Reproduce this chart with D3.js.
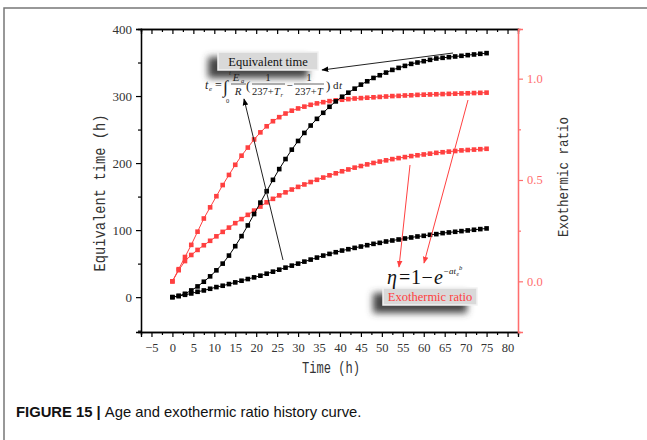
<!DOCTYPE html>
<html>
<head>
<meta charset="utf-8">
<script src="https://cdn.jsdelivr.net/npm/d3@7"></script>
<style>
  body { margin: 0; background: #fff; }
  svg { display: block; }
</style>
</head>
<body>
<svg id="svg1" width="647" height="440"></svg>
<script>
// time (h), one point every 1.5 h
var times = d3.range(0, 75.01, 1.5);

// equivalent time (h), left axis
var eqTimeHigh = [0, 2, 5, 10, 16, 23, 31, 40, 50, 62, 76, 91, 107, 124, 141, 158, 175, 191, 206, 220,
  233, 245, 256, 266, 275, 284, 292, 299, 305, 311, 317, 322, 327, 331, 335, 339, 342, 345, 348, 350,
  352, 354, 356, 357, 358, 359, 360, 361, 362, 363, 364];
var eqTimeLow = [0, 1.5, 3.5, 5.5, 8, 10, 12.5, 15, 17, 19.5, 22, 24.5, 27, 29.5, 32, 35, 38, 41, 44, 47,
  50, 53, 56, 59, 62, 64.5, 67, 69.5, 71.5, 73.5, 75.5, 77.5, 79.5, 81, 83, 84.5, 86, 87.5, 89, 90.5,
  91.5, 93, 94, 95.5, 96.5, 97.5, 98.5, 99.5, 100.5, 101.5, 102.5];

// exothermic ratio, right axis
var exoHigh = [0, 0.06, 0.12, 0.18, 0.245, 0.31, 0.365, 0.42, 0.475, 0.525, 0.575, 0.62, 0.66, 0.7, 0.735,
  0.765, 0.79, 0.81, 0.828, 0.842, 0.853, 0.862, 0.871, 0.878, 0.884, 0.889, 0.893, 0.896, 0.899, 0.902,
  0.904, 0.906, 0.908, 0.91, 0.912, 0.914, 0.915, 0.917, 0.918, 0.92, 0.921, 0.922, 0.923, 0.924, 0.925,
  0.926, 0.927, 0.928, 0.929, 0.93, 0.931];
var exoLow = [0, 0.055, 0.1, 0.13, 0.155, 0.178, 0.2, 0.222, 0.244, 0.265, 0.287, 0.307, 0.328, 0.349, 0.369,
  0.39, 0.407, 0.424, 0.439, 0.453, 0.466, 0.478, 0.49, 0.501, 0.512, 0.523, 0.533, 0.543, 0.552, 0.561,
  0.569, 0.577, 0.584, 0.591, 0.597, 0.603, 0.608, 0.613, 0.618, 0.622, 0.626, 0.63, 0.634, 0.637, 0.64,
  0.643, 0.646, 0.648, 0.65, 0.652, 0.654];

var xTicks = d3.range(-5, 80.1, 5);
var leftTicks = [0, 100, 200, 300, 400];
var rightTicks = [0, 0.5, 1.0];

var plotL = 141, plotR = 518, plotT = 29, plotB = 332;
var red = "#ff4040", axisRed = "#ff6e6e";

var svg = d3.select("#svg1");

// image frame
svg.append("path").attr("d", "M4,440 V8 H647").attr("fill", "none")
   .attr("stroke", "#777").attr("stroke-width", 1.5);

var scaleX = d3.scaleLinear().domain([-7.5, 82.5]).range([plotL, plotR]);
var scaleY = d3.scaleLinear().domain([-52, 400]).range([plotB, plotT]);
var scaleR = d3.scaleLinear().domain([-0.25, 1.245]).range([plotB, plotT]);

var defs = svg.append("defs");
defs.append("filter").attr("id", "blur").attr("x", "-30%").attr("y", "-60%")
    .attr("width", "160%").attr("height", "220%")
    .append("feGaussianBlur").attr("stdDeviation", 3.5);
["arrowK", "arrowR"].forEach(function(id, i) {
  defs.append("marker").attr("id", id).attr("viewBox", "0 0 10 10")
      .attr("refX", 9).attr("refY", 5).attr("markerWidth", 7).attr("markerHeight", 7)
      .attr("orient", "auto")
      .append("path").attr("d", "M0,1 L10,5 L0,9 z").attr("fill", i ? red : "#000");
});

// axes
var tickFont = "'Liberation Serif', 'Times New Roman', serif";

var gB = svg.append("g").attr("transform", "translate(0," + plotB + ")")
  .call(d3.axisBottom(scaleX).tickValues(xTicks).tickSize(5).tickPadding(6).tickFormat(d3.format("d")));
svg.append("g").attr("transform", "translate(0," + plotB + ")")
  .call(d3.axisBottom(scaleX).tickValues(d3.range(-7.5, 82.5, 5)).tickSize(3).tickFormat(""));
svg.append("g").attr("transform", "translate(0," + plotT + ")")
  .call(d3.axisBottom(scaleX).tickValues(xTicks).tickSize(5).tickFormat(""));
svg.append("g").attr("transform", "translate(0," + plotT + ")")
  .call(d3.axisBottom(scaleX).tickValues(d3.range(-7.5, 82.5, 5)).tickSize(3).tickFormat(""));
svg.append("g").attr("transform", "translate(" + plotL + ",0)")
  .call(d3.axisLeft(scaleY).tickValues(leftTicks).tickSize(5).tickPadding(4));
svg.append("g").attr("transform", "translate(" + plotL + ",0)")
  .call(d3.axisLeft(scaleY).tickValues([-50, 50, 150, 250, 350]).tickSize(3).tickFormat(""));
svg.append("g").attr("class", "raxis").attr("transform", "translate(" + plotR + ",0)")
  .call(d3.axisRight(scaleR).tickValues(rightTicks).tickSize(5).tickPadding(4).tickFormat(d3.format(".1f")));
svg.append("g").attr("class", "raxis").attr("transform", "translate(" + plotR + ",0)")
  .call(d3.axisRight(scaleR).tickValues([0.25, 0.75]).tickSize(3).tickFormat(""));

svg.selectAll(".domain").attr("stroke-width", 1.3);
svg.selectAll(".tick line").attr("stroke-width", 1.2);
svg.selectAll("text").attr("font-family", tickFont).attr("font-size", 13).attr("fill", "#333");
gB.selectAll("text").attr("font-size", 12.5);
svg.selectAll(".raxis .domain, .raxis .tick line").attr("stroke", axisRed);
svg.selectAll(".raxis text").attr("fill", axisRed).attr("font-size", 12.5);

// axis titles
var monoFont = "'Liberation Mono', 'DejaVu Sans Mono', monospace";
function axisTitle(x, y, rot, size, len, label) {
  svg.append("text").attr("transform", "translate(" + x + "," + y + ") rotate(" + rot + ")")
     .attr("text-anchor", "middle").attr("font-family", monoFont).attr("font-size", size)
     .attr("textLength", len).attr("lengthAdjust", "spacingAndGlyphs")
     .attr("fill", "#333").text(label);
}
axisTitle(105, 193, -90, 16, 157, "Equivalent time (h)");
axisTitle(568, 177, -90, 15, 120, "Exothermic ratio");
axisTitle(331, 373, 0, 16, 58, "Time (h)");

// series
function drawSeries(vals, yScale, color) {
  var pts = times.map(function(t, i) { return [scaleX(t), yScale(vals[i])]; });
  svg.append("path").attr("d", d3.line()(pts)).attr("fill", "none")
     .attr("stroke", color).attr("stroke-width", 1);
  svg.append("g").selectAll("rect").data(pts).enter().append("rect")
     .attr("x", function(d) { return d[0] - 2.3; })
     .attr("y", function(d) { return d[1] - 2.3; })
     .attr("width", 4.6).attr("height", 4.6).attr("fill", color);
}
drawSeries(exoHigh, scaleR, red);
drawSeries(exoLow, scaleR, red);
drawSeries(eqTimeHigh, scaleY, "#000");
drawSeries(eqTimeLow, scaleY, "#000");

// annotation boxes
function labelBox(x, y, w, h, label, color) {
  svg.append("rect").attr("x", x - 10).attr("y", y + 5).attr("width", w).attr("height", h + 3)
     .attr("fill", "#444").attr("filter", "url(#blur)");
  svg.append("rect").attr("x", x).attr("y", y).attr("width", w).attr("height", h)
     .attr("fill", "#d9d9d9").attr("stroke", "#f2f2f2").attr("stroke-width", 1.5);
  svg.append("text").attr("x", x + w / 2).attr("y", y + h / 2 + 4.5)
     .attr("text-anchor", "middle").attr("font-family", tickFont).attr("font-size", 12.5)
     .attr("fill", color).text(label);
}
labelBox(218, 52, 100, 18, "Equivalent time", "#111");
labelBox(383, 288, 94, 17, "Exothermic ratio", red);

// equivalent time formula
var f = svg.append("g").attr("font-family", tickFont).attr("font-size", 11).attr("fill", "#222");
function ft(x, y, s, opts) {
  var t = f.append("text").attr("x", x).attr("y", y).text(s);
  if (opts && opts.italic) t.attr("font-style", "italic");
  if (opts && opts.size) t.attr("font-size", opts.size);
  if (opts && opts.anchor) t.attr("text-anchor", opts.anchor);
  return t;
}
function fline(x1, x2, y) {
  f.append("line").attr("x1", x1).attr("x2", x2).attr("y1", y).attr("y2", y)
   .attr("stroke", "#222").attr("stroke-width", 0.7);
}
ft(205, 89, "t", {italic: true, size: 12});
ft(209, 91, "e", {italic: true, size: 7});
ft(215, 89, "=", {size: 12});
ft(223, 93, "\u222B", {size: 18});
ft(229, 75, "t", {italic: true, size: 6.5});
ft(226, 103, "0", {size: 6.5});
ft(236, 81, "E", {italic: true, anchor: "middle"});
ft(241, 83, "a", {italic: true, size: 6.5});
fline(231, 246, 84);
ft(238, 95, "R", {italic: true, anchor: "middle"});
ft(246, 90, "(", {size: 13});
ft(268, 81, "1", {anchor: "middle"});
fline(252, 285, 84);
ft(252, 95, "237+", {size: 10.5});
ft(274, 95, "T", {italic: true, size: 10.5});
ft(280.5, 97, "r", {italic: true, size: 6.5});
ft(286.5, 89, "\u2212");
ft(309, 81, "1", {anchor: "middle"});
fline(294, 324, 84);
ft(295, 95, "237+", {size: 10.5});
ft(317, 95, "T", {italic: true, size: 10.5});
ft(326, 90, ")", {size: 13});
ft(333, 89, "d");
ft(339, 89, "t", {italic: true});

// exothermic ratio formula
var g = svg.append("g").attr("font-family", tickFont).attr("fill", "#111").attr("font-size", 20);
g.append("text").attr("x", 387).attr("y", 284).attr("font-style", "italic").text("\u03B7");
g.append("text").attr("x", 399).attr("y", 284).text("=");
g.append("text").attr("x", 411).attr("y", 284).text("1");
g.append("text").attr("x", 421.5).attr("y", 284).text("\u2212");
g.append("text").attr("x", 434).attr("y", 284).attr("font-style", "italic").text("e");
g.append("text").attr("x", 443).attr("y", 274).attr("font-size", 9).attr("font-style", "italic").text("\u2212at");
g.append("text").attr("x", 456.5).attr("y", 276).attr("font-size", 5.5).attr("font-style", "italic").text("e");
g.append("text").attr("x", 459).attr("y", 270).attr("font-size", 6.5).attr("font-style", "italic").text("b");

// arrows
function arrow(x1, y1, x2, y2, color, id) {
  svg.append("line").attr("x1", x1).attr("y1", y1).attr("x2", x2).attr("y2", y2)
     .attr("stroke", color).attr("stroke-width", 1).attr("marker-end", "url(#" + id + ")");
}
arrow(453, 53, 322, 70, "#222", "arrowK");
arrow(283, 260, 244, 99, "#222", "arrowK");
arrow(410, 165, 399, 267, red, "arrowR");
arrow(468, 100, 424, 263, red, "arrowR");

// caption
var cap = svg.append("text").attr("x", 16).attr("y", 417)
   .attr("font-family", "'Liberation Sans', Arial, sans-serif").attr("font-size", 14.8).attr("fill", "#111");
cap.append("tspan").attr("font-weight", "bold").text("FIGURE 15 | ");
cap.append("tspan").text("Age and exothermic ratio history curve.");
</script>
</body>
</html>
